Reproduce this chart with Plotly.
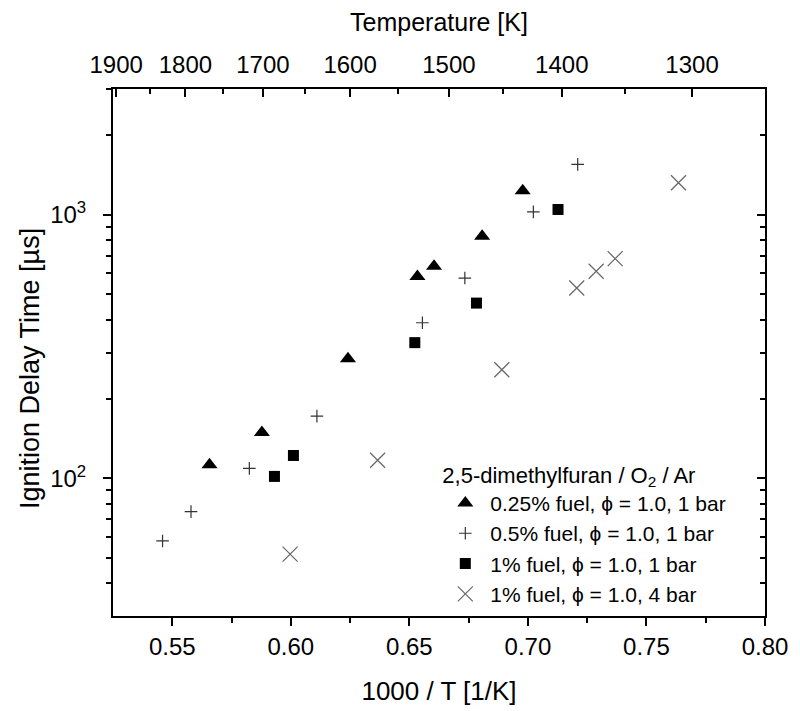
import math
import plotly.graph_objects as go

# 0.25% fuel, phi=1.0, 1 bar (triangles)
tri_x = [0.5657, 0.5878, 0.6241, 0.6534, 0.6604, 0.6807, 0.6978]
tri_y = [112.5, 149, 284, 583, 637, 828, 1232]
# 0.5% fuel, phi=1.0, 1 bar (plus)
plus_x = [0.5459, 0.5579, 0.5825, 0.6110, 0.6555, 0.6734, 0.7023, 0.7210]
plus_y = [57.8, 74.7, 109, 172, 389, 575, 1025, 1553]
# 1% fuel, phi=1.0, 1 bar (squares)
sq_x = [0.5931, 0.6011, 0.6523, 0.6783, 0.7127]
sq_y = [101.6, 122, 327, 462, 1047]
# 1% fuel, phi=1.0, 4 bar (x)
x4_x = [0.5997, 0.6366, 0.6890, 0.7206, 0.7288, 0.7368, 0.7635]
x4_y = [51.5, 117, 258, 527, 610, 681, 1322]

x_range = [0.525, 0.80]
y_range = [30, 3000]
x_ticks = [0.55, 0.60, 0.65, 0.70, 0.75, 0.80]
x_minor = [0.575, 0.625, 0.675, 0.725, 0.775]
temp_ticks = [1900, 1800, 1700, 1600, 1500, 1400, 1300]
temp_minor = [1850, 1750, 1650, 1550, 1450, 1350]
y_major = [100, 1000]
y_major_text = ["10<sup>2</sup>", "10<sup>3</sup>"]
y_minor = [40, 50, 60, 70, 80, 90, 200, 300, 400, 500, 600, 700, 800, 900, 2000, 3000]

FONT = "Arial, Liberation Sans, sans-serif"

fig = go.Figure()
fig.add_trace(go.Scatter(x=tri_x, y=tri_y, mode="markers", name="0.25% fuel, \u03d5 = 1.0, 1 bar",
                         marker=dict(symbol="triangle-up", size=14, color="black")))
fig.add_trace(go.Scatter(x=plus_x, y=plus_y, mode="markers", name="0.5% fuel, \u03d5 = 1.0, 1 bar",
                         marker=dict(symbol="cross-thin", size=9, color="#333333",
                                     line=dict(color="#333333", width=1.2))))
fig.add_trace(go.Scatter(x=sq_x, y=sq_y, mode="markers", name="1% fuel, \u03d5 = 1.0, 1 bar",
                         marker=dict(symbol="square", size=11, color="black")))
fig.add_trace(go.Scatter(x=x4_x, y=x4_y, mode="markers", name="1% fuel, \u03d5 = 1.0, 4 bar",
                         marker=dict(symbol="x-thin", size=15, color="#666666",
                                     line=dict(color="#666666", width=1.2))))
# invisible trace to anchor the top/right axes
fig.add_trace(go.Scatter(x=[x_range[0]], y=[y_range[0]], xaxis="x2", yaxis="y2", mode="markers",
                         marker=dict(opacity=0), showlegend=False, hoverinfo="skip"))

axis_common = dict(showline=True, linecolor="black", linewidth=2, showgrid=False, zeroline=False,
                   tickcolor="black", tickwidth=2, mirror=False, automargin=False)
ylog = [math.log10(y_range[0]), math.log10(y_range[1])]

# the page body has an 8px default margin, so the figure is sized/margined to compensate
fig.update_layout(
    width=792, height=703,
    margin=dict(l=105, r=35, t=81, b=95),
    paper_bgcolor="white", plot_bgcolor="white",
    font=dict(family=FONT, color="black"),
    showlegend=True,
    legend=dict(
        x=0.502, y=0.307, xanchor="left", yanchor="top",
        bgcolor="rgba(0,0,0,0)", borderwidth=0,
        font=dict(size=21, family=FONT),
        title=dict(text="2,5-dimethylfuran / O<sub>2</sub> / Ar", font=dict(size=22, family=FONT)),
        itemsizing="trace", tracegroupgap=0, itemwidth=40,
    ),
    xaxis=dict(range=x_range, tickvals=x_ticks, ticktext=["%.2f" % v for v in x_ticks],
               ticks="outside", ticklen=8,
               minor=dict(tickvals=x_minor, ticks="outside", ticklen=5, tickcolor="black", tickwidth=2),
               tickfont=dict(size=24), title=dict(text="1000 / T [1/K]", font=dict(size=26), standoff=23),
               **axis_common),
    yaxis=dict(type="log", range=ylog,
               tickvals=y_major, ticktext=y_major_text, ticks="outside", ticklen=8, ticklabelstandoff=12,
               minor=dict(tickvals=y_minor, ticks="outside", ticklen=5, tickcolor="black", tickwidth=2),
               tickfont=dict(size=24),
               **axis_common),
    xaxis2=dict(overlaying="x", side="top", anchor="y", range=x_range,
                tickvals=[1000.0 / t for t in temp_ticks], ticktext=[str(t) for t in temp_ticks],
                ticks="inside", ticklen=8, ticklabelstandoff=4,
                minor=dict(tickvals=[1000.0 / t for t in temp_minor], ticks="inside", ticklen=5,
                           tickcolor="black", tickwidth=2),
                tickfont=dict(size=24), title=dict(text="Temperature [K]", font=dict(size=25), standoff=14),
                **axis_common),
    yaxis2=dict(overlaying="y", side="right", anchor="x", type="log", range=ylog,
                tickvals=y_major, ticks="inside", ticklen=8, showticklabels=False,
                minor=dict(tickvals=y_minor, ticks="inside", ticklen=5, tickcolor="black", tickwidth=2),
                **axis_common),
    annotations=[dict(text="Ignition Delay Time [\u00b5s]", xref="paper", yref="paper",
                      x=-0.127, y=0.469, xanchor="center", yanchor="middle", textangle=-90,
                      showarrow=False, font=dict(size=27, family=FONT))],
)

fig.write_html("out.html")
